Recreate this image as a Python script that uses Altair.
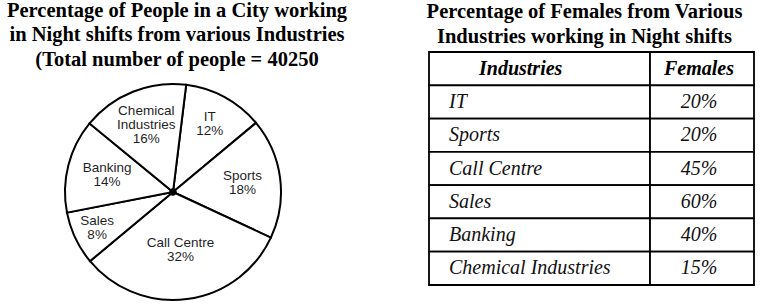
import math
import altair as alt
import pandas as pd

# ---------------- data ----------------
industries = ["IT", "Sports", "Call Centre", "Sales", "Banking", "Chemical Industries"]
pie_names = ["IT", "Sports", "Call Centre", "Sales", "Banking", "Chemical\nIndustries"]
people_share = [12, 18, 32, 8, 14, 16]          # % of people in night shifts
female_share = [20, 20, 45, 60, 40, 15]         # % of females per industry
table_header = ["Industries", "Females"]
left_title = [
    "Percentage of People in a City working",
    "in Night shifts from various Industries",
    "(Total number of people = 40250",
]
right_title = [
    "Percentage of Females from Various",
    "Industries working in Night shifts",
]

# ---------------- layout (not data) ----------------
START = math.radians(7)            # rotation of first slice
PIE_R = 108
PIE_W, PIE_H = 346, 253
Y_SHIFT = 13.5
LBL_FS, LBL_LH = 13.5, 14
label_radius = {"IT": 77, "Sports": 70, "Call Centre": 58, "Sales": 84,
                "Banking": 68, "Chemical Industries": 72}

TAB_W, TAB_H = 325, 233
SPLIT = 221 / 325

# ---------------- pie ----------------
pie_labels = [f"{n}\n{s}%" for n, s in zip(pie_names, people_share)]
pie_df = pd.DataFrame({
    "industry": industries,
    "label": pie_labels,
    "share": people_share,
    "ord": list(range(len(industries))),
})

theta = alt.Theta("share:Q", stack=True,
                  scale=alt.Scale(range=[START, START + 2 * math.pi]))

base = alt.Chart(pie_df).encode(theta=theta, order=alt.Order("ord:Q"))

arcs = base.mark_arc(radius=PIE_R, fill="white", stroke="black",
                     strokeWidth=2, yOffset=Y_SHIFT)
dot = base.mark_arc(radius=3.5, fill="black", stroke="black",
                    strokeWidth=0.5, yOffset=Y_SHIFT)

label_layers = []
for name, lbl in zip(industries, pie_labels):
    n_lines = lbl.count("\n") + 1
    label_layers.append(
        base.mark_text(
            font="Liberation Sans", fontSize=LBL_FS, lineBreak="\n",
            lineHeight=LBL_LH, color="#1f1f1f", radius=label_radius[name],
            yOffset=Y_SHIFT, dy=-(n_lines - 1) * LBL_LH / 2, baseline="middle"
        ).encode(
            text=alt.condition(f"datum.industry == '{name}'",
                               alt.Text("label:N"), alt.value(""))
        )
    )

pie = alt.layer(arcs, dot, *label_layers).properties(
    width=PIE_W, height=PIE_H,
    title=alt.TitleParams(text=left_title, font="Liberation Serif",
                          fontSize=20.5, fontWeight="bold", lineHeight=24.5,
                          anchor="middle", offset=-18, dx=4, color="black"),
)

# ---------------- table ----------------
rows = [table_header] + [[n, f"{v}%"] for n, v in zip(industries, female_share)]
cells = []
for r, row in enumerate(rows):
    for c, txt in enumerate(row):
        cells.append({"row": r, "col": c, "text": txt, "header": r == 0})
tdf = pd.DataFrame(cells)

xscale = alt.Scale(domain=[0, 1])
yenc = alt.Y("row:O", scale=alt.Scale(paddingInner=0, paddingOuter=0), axis=None)

tbase = alt.Chart(tdf).transform_calculate(
    x0=f"datum.col == 0 ? 0 : {SPLIT}",
    x1=f"datum.col == 0 ? {SPLIT} : 1",
)

grid = tbase.mark_rect(fill="white", stroke="black", strokeWidth=1.8).encode(
    x=alt.X("x0:Q", scale=xscale, axis=None), x2="x1:Q", y=yenc)

head_left = tbase.transform_filter("datum.header && datum.col == 0").mark_text(
    font="Liberation Serif", fontSize=20, fontStyle="italic", fontWeight="bold",
    align="left", baseline="middle", color="black"
).encode(x=alt.value(50), y=yenc, text="text:N")

head_right = tbase.transform_filter("datum.header && datum.col == 1").mark_text(
    font="Liberation Serif", fontSize=20, fontStyle="italic", fontWeight="bold",
    align="center", baseline="middle", color="black"
).encode(x=alt.value(270), y=yenc, text="text:N")

body_left = tbase.transform_filter("!datum.header && datum.col == 0").mark_text(
    font="Liberation Serif", fontSize=20, fontStyle="italic",
    align="left", baseline="middle", color="#111"
).encode(x=alt.value(20), y=yenc, text="text:N")

body_right = tbase.transform_filter("!datum.header && datum.col == 1").mark_text(
    font="Liberation Serif", fontSize=20, fontStyle="italic",
    align="center", baseline="middle", color="#111"
).encode(x=alt.value(270), y=yenc, text="text:N")

table = alt.layer(grid, head_left, head_right, body_left, body_right).properties(
    width=TAB_W, height=TAB_H,
    title=alt.TitleParams(text=right_title, font="Liberation Serif",
                          fontSize=20.5, fontWeight="bold", lineHeight=24.5,
                          anchor="middle", offset=4, dx=-7, color="black"),
)

chart = alt.hconcat(pie, table, spacing=78).configure_view(stroke=None).properties(
    padding=0, background="white")

chart.save("out.html", embed_options={"renderer": "svg", "actions": False})
